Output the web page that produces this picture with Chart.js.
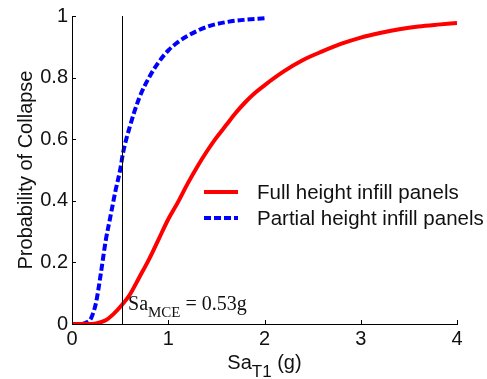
<!DOCTYPE html>
<html>
<head>
<meta charset="utf-8">
<script src="https://cdn.jsdelivr.net/npm/chart.js@4.4.1/dist/chart.umd.min.js"></script>
<style>
  html, body { margin: 0; padding: 0; background: #fff; }
  #wrap { width: 487px; height: 379px; }
</style>
</head>
<body>
<div id="wrap"><canvas id="fragility"></canvas></div>
<script>
// Collapse fragility curves
const fullSa = [0, 0.15, 0.25, 0.35, 0.43, 0.5, 0.6, 0.7, 0.8, 0.9, 1.0, 1.1, 1.2, 1.3, 1.4, 1.5, 1.6, 1.7, 1.8, 1.9, 2.0, 2.2, 2.4, 2.6, 2.8, 3.0, 3.2, 3.4, 3.6, 3.8, 4.0];
const fullProb = [0, 0, 0.002, 0.012, 0.032, 0.055, 0.095, 0.152, 0.21, 0.275, 0.34, 0.395, 0.455, 0.51, 0.56, 0.605, 0.645, 0.685, 0.72, 0.75, 0.775, 0.82, 0.857, 0.885, 0.91, 0.93, 0.945, 0.957, 0.966, 0.972, 0.977];

const partialSa = [0, 0.1, 0.15, 0.2, 0.25, 0.3, 0.35, 0.4, 0.45, 0.5, 0.53, 0.6, 0.7, 0.8, 0.9, 1.0, 1.1, 1.2, 1.4, 1.6, 1.8, 2.0];
const partialProb = [0, 0, 0.005, 0.02, 0.07, 0.165, 0.27, 0.35, 0.43, 0.5, 0.555, 0.64, 0.735, 0.8, 0.85, 0.888, 0.915, 0.935, 0.965, 0.98, 0.988, 0.993];

const mceSa = 0.53;
const mceLabel = ['Sa', 'MCE', ' = 0.53g'];

const seriesLabels = ['Full height infill panels', 'Partial height infill panels'];
const xTicks = [0, 1, 2, 3, 4];
const xTickLabels = ['0', '1', '2', '3', '4'];
const yTicks = [0, 0.2, 0.4, 0.6, 0.8, 1];
const yTickLabels = ['0', '0.2', '0.4', '0.6', '0.8', '1'];
const xTitle = ['Sa', 'T1', ' (g)'];
const yTitle = 'Probability of Collapse';

const SANS = '"Liberation Sans", Arial, sans-serif';
const SERIF = '"Liberation Serif", "Times New Roman", serif';

const toPoints = (xs, ys) => xs.map((x, i) => ({ x: x, y: ys[i] }));

// inward tick marks and the MCE marker line, drawn crisp on whole pixels
const innerTicks = {
  id: 'innerTicks',
  afterDatasetsDraw(chart) {
    const { ctx, chartArea, scales } = chart;
    ctx.save();
    ctx.strokeStyle = '#000';
    ctx.lineWidth = 1;
    ctx.beginPath();
    scales.x.ticks.forEach((t) => {
      const px = Math.round(scales.x.getPixelForValue(t.value)) + 0.5;
      ctx.moveTo(px, chartArea.bottom);
      ctx.lineTo(px, chartArea.bottom - 4);
    });
    scales.y.ticks.forEach((t) => {
      const py = Math.round(scales.y.getPixelForValue(t.value)) + 0.5;
      ctx.moveTo(chartArea.left, py);
      ctx.lineTo(chartArea.left + 4, py);
    });
    const mx = Math.floor(scales.x.getPixelForValue(mceSa)) - 0.5;
    ctx.moveTo(mx, scales.y.getPixelForValue(0));
    ctx.lineTo(mx, scales.y.getPixelForValue(1));
    ctx.stroke();
    ctx.restore();
  },
};

// text with subscript: [base, sub, rest]
function drawSubText(ctx, parts, x, y, font, size, subSize, align) {
  ctx.font = size + 'px ' + font;
  const w0 = ctx.measureText(parts[0]).width;
  const w2 = ctx.measureText(parts[2]).width;
  ctx.font = subSize + 'px ' + font;
  const w1 = ctx.measureText(parts[1]).width;
  let start = x;
  if (align === 'center') start = x - (w0 + w1 + w2) / 2;
  ctx.textAlign = 'left';
  ctx.textBaseline = 'alphabetic';
  ctx.font = size + 'px ' + font;
  ctx.fillText(parts[0], start, y);
  ctx.font = subSize + 'px ' + font;
  ctx.fillText(parts[1], start + w0, y + subSize * 0.45);
  ctx.font = size + 'px ' + font;
  ctx.fillText(parts[2], start + w0 + w1, y);
}

const decorations = {
  id: 'decorations',
  afterDraw(chart) {
    const { ctx, chartArea, scales } = chart;
    ctx.save();
    ctx.fillStyle = '#111';

    // axis titles
    drawSubText(ctx, xTitle, (chartArea.left + chartArea.right) / 2, 369, SANS, 20, 17, 'center');
    ctx.save();
    ctx.translate(26, (chartArea.top + chartArea.bottom) / 2);
    ctx.rotate(-Math.PI / 2);
    ctx.font = '20px ' + SANS;
    ctx.textAlign = 'center';
    ctx.textBaseline = 'middle';
    ctx.fillText(yTitle, 0, 0);
    ctx.restore();

    // Sa_MCE note next to the vertical line
    const lx = scales.x.getPixelForValue(mceSa) + 5;
    drawSubText(ctx, mceLabel, lx, scales.y.getPixelForValue(0) - 14, SERIF, 20, 15, 'left');

    // legend
    const legendX = 204;
    const legendY = 192;
    chart.data.datasets.forEach((ds, i) => {
      if (!ds.label) return;
      const y = legendY + i * 26;
      ctx.save();
      ctx.strokeStyle = ds.borderColor;
      ctx.lineWidth = ds.borderWidth;
      ctx.setLineDash(ds.borderDash || []);
      ctx.beginPath();
      ctx.moveTo(legendX, y);
      ctx.lineTo(legendX + 34, y);
      ctx.stroke();
      ctx.restore();
      ctx.font = '20.5px ' + SANS;
      ctx.textAlign = 'left';
      ctx.textBaseline = 'middle';
      ctx.fillText(ds.label, legendX + 53, y + 1);
    });
    ctx.restore();
  },
};

new Chart(document.getElementById('fragility'), {
  type: 'line',
  data: {
    datasets: [
      {
        label: seriesLabels[0],
        data: toPoints(fullSa, fullProb),
        borderColor: '#ff0000',
        borderWidth: 4,
        pointRadius: 0,
        cubicInterpolationMode: 'monotone',
        fill: false,
      },
      {
        label: seriesLabels[1],
        data: toPoints(partialSa, partialProb),
        borderColor: '#0000ff',
        borderWidth: 4,
        borderDash: [7, 3],
        pointRadius: 0,
        cubicInterpolationMode: 'monotone',
        fill: false,
      },
    ],
  },
  options: {
    responsive: true,
    maintainAspectRatio: false,
    animation: false,
    layout: { padding: { top: 15, right: 30, left: 0, bottom: 0 } },
    plugins: { legend: { display: false }, tooltip: { enabled: false } },
    scales: {
      x: {
        type: 'linear',
        min: 0,
        max: 4,
        afterFit: (scale) => { scale.height = 55; },
        afterBuildTicks: (scale) => { scale.ticks = xTicks.map((v) => ({ value: v })); },
        grid: { display: true, drawOnChartArea: false, drawTicks: false },
        border: { display: true, color: '#000', width: 1 },
        ticks: {
          padding: 3,
          color: '#111',
          font: { family: SANS, size: 20 },
          callback: (v, i) => xTickLabels[i],
        },
      },
      y: {
        type: 'linear',
        min: 0,
        max: 1,
        afterFit: (scale) => { scale.width = 72; },
        afterBuildTicks: (scale) => { scale.ticks = yTicks.map((v) => ({ value: v })); },
        grid: { display: true, drawOnChartArea: false, drawTicks: false },
        border: { display: true, color: '#000', width: 1 },
        ticks: {
          padding: 4,
          color: '#111',
          font: { family: SANS, size: 20 },
          callback: (v, i) => yTickLabels[i],
        },
      },
    },
  },
  plugins: [innerTicks, decorations],
});
</script>
</body>
</html>
